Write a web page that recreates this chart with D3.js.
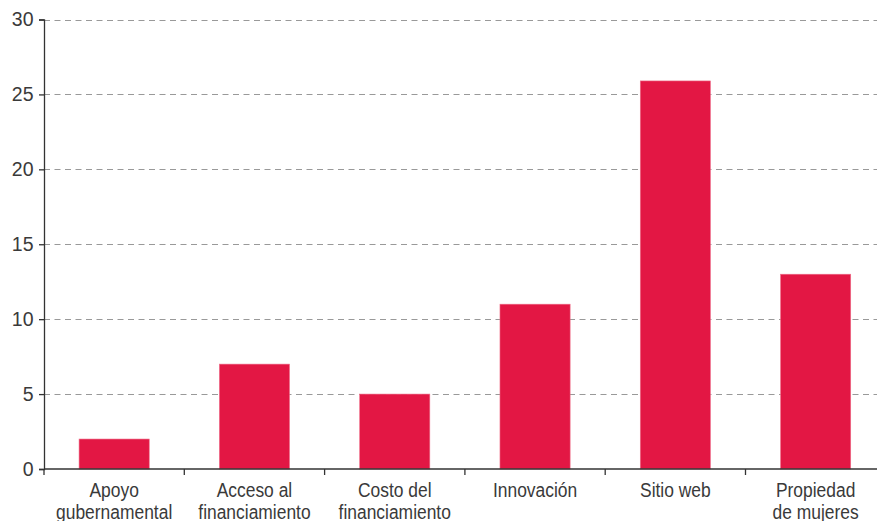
<!DOCTYPE html>
<html>
<head>
<meta charset="utf-8">
<script src="https://cdn.jsdelivr.net/npm/d3@7"></script>
<style>
    body { margin: 0; background: #fff; }
    svg text { font-family: "Liberation Sans", Arial, sans-serif; fill: #3a3a3a; }
</style>
</head>
<body>
<div id="chart"></div>
<script>
const categories = [
    ['Apoyo', 'gubernamental'],
    ['Acceso al', 'financiamiento'],
    ['Costo del', 'financiamiento'],
    ['Innovación'],
    ['Sitio web'],
    ['Propiedad', 'de mujeres']
];
const values = [2.0, 7.0, 5.0, 11.0, 25.9, 13.0];
const yTicks = [0, 5, 10, 15, 20, 25, 30];

const width = 877, height = 521;
const margin = {top: 19.5, left: 44, bottom: 52};
const step = 140.3;
const innerH = height - margin.top - margin.bottom;

const svg = d3.select('#chart').append('svg')
    .attr('width', width)
    .attr('height', height);

const x = d3.scaleBand()
    .domain(d3.range(categories.length))
    .range([margin.left, margin.left + step * categories.length])
    .paddingInner(0.5)
    .paddingOuter(0.25);

const y = d3.scaleLinear()
    .domain([0, 30])
    .range([margin.top + innerH, margin.top]);

// Gridlines
svg.append('g')
    .selectAll('line')
    .data(yTicks.filter(d => d > 0))
    .enter().append('line')
    .attr('x1', margin.left)
    .attr('x2', width)
    .attr('y1', d => Math.round(y(d)) + 0.5)
    .attr('y2', d => Math.round(y(d)) + 0.5)
    .attr('stroke', '#999')
    .attr('stroke-width', 1.2)
    .attr('stroke-dasharray', '6,4.5');

// Bars
svg.append('g')
    .selectAll('rect')
    .data(values)
    .enter().append('rect')
    .attr('x', (d, i) => x(i))
    .attr('y', d => y(d))
    .attr('width', x.bandwidth())
    .attr('height', d => y(0) - y(d))
    .attr('fill', '#e31744')
    .attr('stroke', '#ee6f8a')
    .attr('stroke-width', 0.6);

// Y axis
const yAxis = svg.append('g')
    .attr('transform', `translate(${margin.left},0)`)
    .call(d3.axisLeft(y).tickValues(yTicks).tickSize(5).tickPadding(5.5));
yAxis.select('.domain').attr('stroke', '#333').attr('stroke-width', 1.3);
yAxis.selectAll('.tick line').attr('stroke', '#333').attr('stroke-width', 1.3);
yAxis.selectAll('.tick text').style('font-size', '19.5px').attr('fill', '#3a3a3a');

// X axis (ticks at category boundaries)
const boundaries = d3.range(categories.length + 1).map(i => margin.left + i * step);
svg.append('line')
    .attr('x1', margin.left)
    .attr('x2', width)
    .attr('y1', y(0))
    .attr('y2', y(0))
    .attr('stroke', '#333')
    .attr('stroke-width', 1.5);
svg.append('g')
    .selectAll('line')
    .data(boundaries)
    .enter().append('line')
    .attr('x1', d => d)
    .attr('x2', d => d)
    .attr('y1', y(0))
    .attr('y2', y(0) + 6)
    .attr('stroke', '#333')
    .attr('stroke-width', 1.3);

// Category labels (condensed)
const labels = svg.append('g')
    .selectAll('text')
    .data(categories)
    .enter().append('text')
    .attr('text-anchor', 'middle')
    .style('font-size', '21px')
    .attr('transform', (d, i) => `translate(${x(i) + x.bandwidth() / 2},${y(0) + 27.7}) scale(0.83,1)`);

labels.selectAll('tspan')
    .data(d => d)
    .enter().append('tspan')
    .attr('x', 0)
    .attr('dy', (d, i) => i === 0 ? 0 : 22.7)
    .text(d => d);
</script>
</body>
</html>
